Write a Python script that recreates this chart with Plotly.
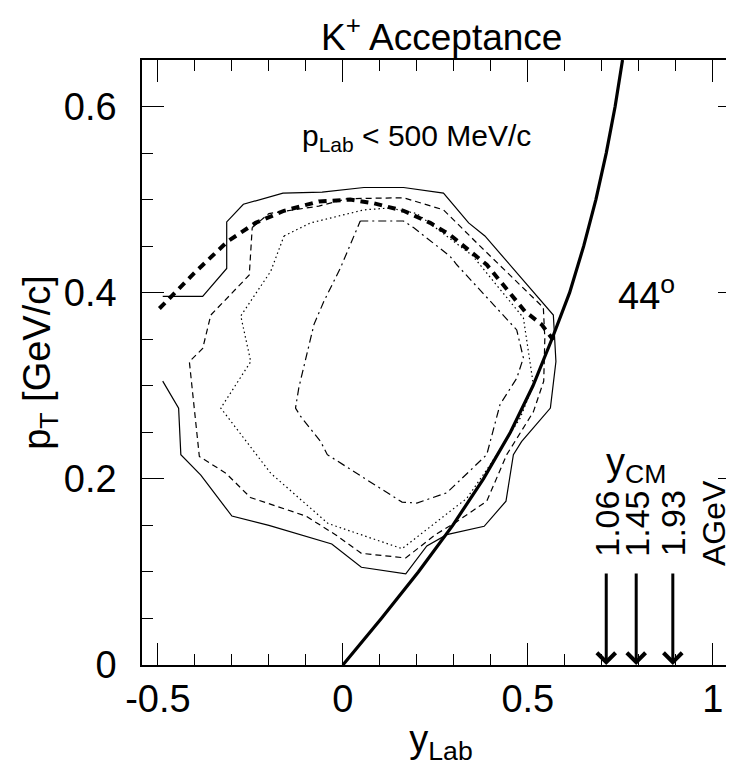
import plotly.graph_objects as go

# ---------------- data ----------------
# outer acceptance contour (thin solid, open on the left)
solid_x = [-0.487, -0.379, -0.314, -0.314, -0.269, -0.162, -0.056, 0.057, 0.164, 0.272,
           0.340, 0.384, 0.569, 0.576, 0.561, 0.483, 0.461, 0.441, 0.382, 0.281,
           0.227, 0.17, 0.05, -0.03, -0.2, -0.3, -0.384, -0.438, -0.444, -0.487]
solid_y = [0.396, 0.396, 0.426, 0.476, 0.495, 0.507, 0.508, 0.513, 0.513, 0.507,
           0.475, 0.461, 0.376, 0.326, 0.276, 0.240, 0.226, 0.176, 0.149, 0.140,
           0.128, 0.098, 0.105, 0.13, 0.15, 0.16, 0.204, 0.226, 0.276, 0.305]

# second contour (thin dashed, closed)
dash_x = [-0.245, -0.2, -0.065, 0.012, 0.164, 0.272, 0.371, 0.542, 0.546, 0.543,
          0.515, 0.443, 0.389, 0.308, 0.25, 0.17, 0.05, -0.02, -0.1, -0.25,
          -0.316, -0.388, -0.415, -0.379, -0.357, -0.253, -0.245]
dash_y = [0.470, 0.485, 0.493, 0.501, 0.502, 0.489, 0.450, 0.384, 0.351, 0.305,
          0.272, 0.226, 0.176, 0.154, 0.14, 0.115, 0.12, 0.14, 0.16, 0.18,
          0.206, 0.224, 0.326, 0.340, 0.376, 0.419, 0.470]

# third contour (thin dotted, closed)
dot_x = [-0.159, -0.087, 0.057, 0.128, 0.2, 0.35, 0.488, 0.506, 0.515, 0.479,
         0.398, 0.335, 0.16, -0.04, -0.195, -0.33, -0.249, -0.276, -0.195, -0.159]
dot_y = [0.461, 0.475, 0.489, 0.491, 0.485, 0.44, 0.373, 0.323, 0.301, 0.265,
         0.215, 0.179, 0.125, 0.152, 0.206, 0.276, 0.326, 0.375, 0.423, 0.461]

# fourth contour (thin dash-dot, closed)
dashdot_x = [0.047, 0.164, 0.191, 0.29, 0.308, 0.47, 0.488, 0.47, 0.425, 0.389,
             0.281, 0.2, 0.16, 0.047, -0.042, -0.06, -0.114, -0.128, -0.119, -0.078,
             -0.051, -0.006, 0.03, 0.047]
dashdot_y = [0.477, 0.477, 0.470, 0.439, 0.430, 0.36, 0.33, 0.308, 0.280, 0.226,
             0.185, 0.174, 0.175, 0.203, 0.226, 0.240, 0.267, 0.276, 0.298, 0.366,
             0.391, 0.427, 0.462, 0.477]

# p_Lab = 500 MeV/c line (thick dashed)
plab_x = [-0.496, -0.402, -0.312, -0.236, -0.159, -0.065, 0.02, 0.084, 0.164, 0.236,
          0.29, 0.389, 0.492, 0.537, 0.569]
plab_y = [0.383, 0.421, 0.455, 0.475, 0.488, 0.498, 0.500, 0.496, 0.488, 0.475,
          0.462, 0.430, 0.380, 0.366, 0.349]

# 44 degree lab-angle line (thick solid)
theta_x = [0.0, 0.104, 0.204, 0.297, 0.380, 0.453, 0.514, 0.565, 0.613, 0.651,
           0.684, 0.712, 0.736, 0.756]
theta_y = [0.0, 0.05, 0.10, 0.15, 0.20, 0.25, 0.30, 0.35, 0.40, 0.45,
           0.50, 0.55, 0.60, 0.65]

# y_CM arrows for the beam energies
ycm_x = [0.712, 0.793, 0.892]
ycm_labels = ["1.06", "1.45", "1.93"]
arrow_top = 0.10

x_ticks = [-0.5, 0, 0.5, 1]
x_ticktext = ["-0.5", "0", "0.5", "1"]
y_ticks = [0, 0.2, 0.4, 0.6]
y_ticktext = ["0", "0.2", "0.4", "0.6"]

FONT = "Liberation Sans, Arial, sans-serif"
FS = 38

fig = go.Figure()

def add_line(x, y, width, dash):
    fig.add_trace(go.Scatter(x=x, y=y, mode="lines", showlegend=False, hoverinfo="skip",
                             line=dict(color="black", width=width, dash=dash)))

add_line(solid_x, solid_y, 1.2, "solid")
add_line(dash_x, dash_y, 1.2, "6px,4px")
add_line(dot_x, dot_y, 1.2, "1.5px,3px")
add_line(dashdot_x, dashdot_y, 1.2, "8px,4px,2px,4px")
add_line(plab_x, plab_y, 4, "8px,6px")
add_line(theta_x, theta_y, 3.2, "solid")

for xv, lab in zip(ycm_x, ycm_labels):
    fig.add_annotation(x=xv, y=0, ax=xv, ay=arrow_top, xref="x", yref="y", axref="x", ayref="y",
                       showarrow=True, arrowhead=4, arrowsize=1.2, arrowwidth=3, arrowcolor="black",
                       text="")
    fig.add_annotation(x=xv, y=0.152, xref="x", yref="y", text=lab, showarrow=False, textangle=-90,
                       font=dict(family=FONT, size=34, color="black"))
fig.add_annotation(x=1.002, y=0.152, xref="x", yref="y", text="AGeV", showarrow=False, textangle=-90,
                   font=dict(family=FONT, size=32, color="black"))
fig.add_annotation(x=0.793, y=0.215, xref="x", yref="y", text="y<sub>CM</sub>", showarrow=False,
                   font=dict(family=FONT, size=FS, color="black"))
fig.add_annotation(x=0.82, y=0.40, xref="x", yref="y", text="44<sup>o</sup>", showarrow=False,
                   font=dict(family=FONT, size=FS, color="black"))
fig.add_annotation(x=0.2, y=0.567, xref="x", yref="y", text="p<sub>Lab</sub> < 500 MeV/c",
                   showarrow=False, font=dict(family=FONT, size=30, color="black"))
fig.add_annotation(x=0.5, y=1.0, xref="paper", yref="paper", xanchor="center", yanchor="bottom",
                   text="K<sup>+</sup> Acceptance", showarrow=False,
                   font=dict(family=FONT, size=37, color="black"))

fig.update_layout(
    width=734, height=770,
    margin=dict(l=134, r=0, t=52, b=113),
    paper_bgcolor="white", plot_bgcolor="white",
    font=dict(family=FONT, size=FS, color="black"),
)
fig.update_xaxes(range=[-0.543, 1.0736], tickvals=x_ticks, ticktext=x_ticktext,
                 ticks="inside", ticklen=22, tickwidth=1.2, tickcolor="black",
                 minor=dict(dtick=0.1, tick0=0, ticks="inside", ticklen=11, tickcolor="black", tickwidth=1.2),
                 showline=True, linecolor="black", linewidth=1.5, mirror="ticks",
                 showgrid=False, zeroline=False,
                 title=dict(text="y<sub>Lab</sub>", standoff=6, font=dict(size=FS)),
                 tickfont=dict(size=FS))
fig.update_yaxes(range=[0, 0.65], tickvals=y_ticks, ticktext=y_ticktext,
                 ticks="inside", ticklen=22, tickwidth=1.2, tickcolor="black",
                 minor=dict(dtick=0.05, tick0=0, ticks="inside", ticklen=11, tickcolor="black", tickwidth=1.2),
                 showline=True, linecolor="black", linewidth=1.5, mirror="ticks",
                 showgrid=False, zeroline=False, ticklabelstandoff=16,
                 title=dict(text="p<sub>T</sub> [GeV/c]", standoff=0, font=dict(size=FS)),
                 tickfont=dict(size=FS))

fig.write_html("out.html")
